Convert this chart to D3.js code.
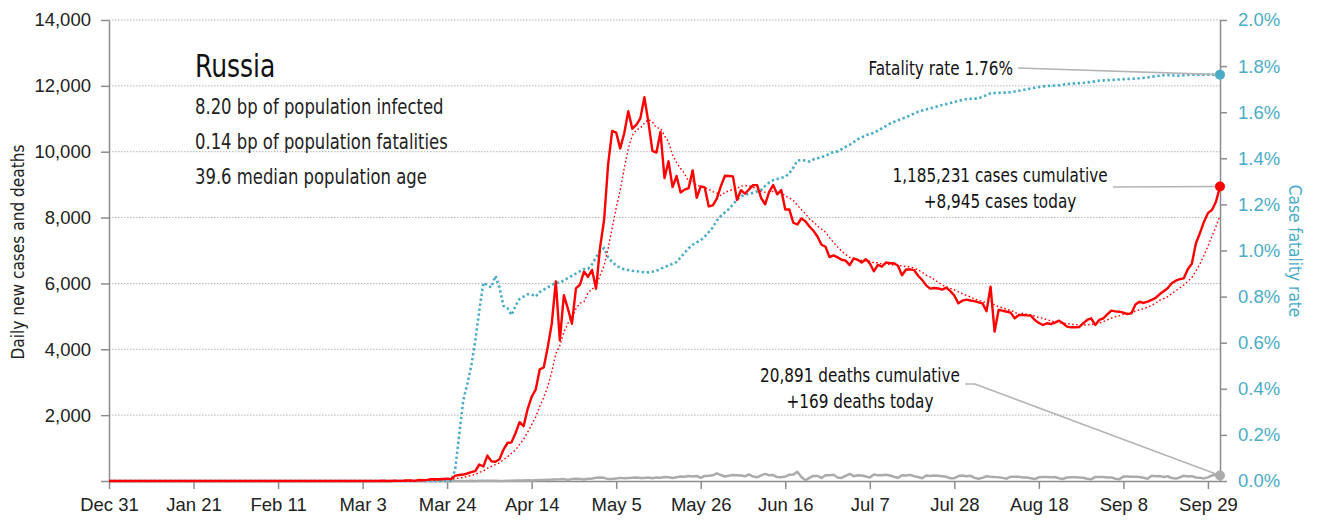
<!DOCTYPE html>
<html>
<head>
<meta charset="utf-8">
<script src="https://cdn.jsdelivr.net/npm/d3@7"></script>
<style>
  body { margin: 0; background: #fff; }
  svg { font-family: "Liberation Sans Narrow", "Arial Narrow", "DejaVu Sans Condensed", sans-serif; }
</style>
</head>
<body>
<svg id="chart" width="1320" height="522"></svg>
<script>
// Daily series start on this date, one value per day
const startDate = "2019-12-31";

// Daily new cases (left axis)
const dailyCases = [
  0,0,0,0,0,0,0,0,0,0,
  0,0,0,0,0,0,0,0,0,0,
  0,0,0,0,0,0,0,0,0,0,
  0,0,2,0,0,0,0,0,0,0,
  0,0,0,0,0,0,0,0,0,0,
  0,0,0,0,0,0,0,0,0,0,
  0,0,0,1,0,0,0,1,6,0,
  0,7,3,8,17,14,4,30,21,33,
  52,54,53,61,71,57,163,182,196,228,
  270,302,501,440,771,601,582,658,954,1154,
  1175,1459,1786,1667,2186,2558,2774,3388,3448,4070,
  4785,6060,4268,5642,5236,4774,5849,5966,6361,6198,
  6411,5841,7099,7933,9623,10633,10581,10102,10559,11231,
  10699,10817,11012,11656,10899,10028,9974,10598,9200,9709,
  8926,9263,8764,8849,8894,9434,8599,8946,8915,8338,
  8371,8572,8952,9268,9263,9250,8536,8831,8726,8855,
  8984,8985,8595,8404,8779,8987,8706,8835,8246,8248,
  7843,7790,7972,7889,7728,7600,7425,7176,7113,6800,
  6852,6791,6719,6693,6556,6760,6718,6632,6736,6611,
  6368,6562,6509,6635,6615,6611,6537,6248,6422,6428,
  6406,6234,6109,5940,5842,5862,5848,5811,5871,5765,
  5635,5395,5475,5509,5482,5462,5427,5394,5159,5901,
  4535,5193,5173,5140,5112,4940,5041,5041,5030,5021,
  4890,4800,4738,4789,4768,4809,4869,4789,4687,4667,
  4667,4676,4789,4890,4940,4738,4890,4940,5061,5173,
  5150,5142,5112,5071,5092,5363,5446,5406,5449,5497,
  5560,5670,5762,5852,6004,6084,6130,6155,6431,6595,
  7212,7523,7867,8135,8232,8481,8945
];

// Daily deaths (left axis)
const dailyDeaths = [
  0,0,0,0,0,0,0,0,0,0,
  0,0,0,0,0,0,0,0,0,0,
  0,0,0,0,0,0,0,0,0,0,
  0,0,0,0,0,0,0,0,0,0,
  0,0,0,0,0,0,0,0,0,0,
  0,0,0,0,0,0,0,0,0,0,
  0,0,0,0,0,0,0,0,0,0,
  0,0,0,0,0,0,0,0,0,0,
  0,0,0,0,0,0,1,2,1,0,
  4,1,8,7,6,4,9,2,2,11,
  5,13,18,12,24,18,22,28,34,41,
  42,48,51,57,28,60,66,60,47,67,
  72,101,108,96,57,58,76,95,86,88,
  98,104,88,94,107,86,107,96,119,113,
  91,115,135,127,150,139,153,92,153,161,
  174,232,181,138,162,182,178,169,144,197,
  134,112,171,216,174,181,119,114,134,193,
  194,280,120,20,95,153,154,92,176,176,
  188,104,93,154,216,147,176,168,135,104,
  198,173,174,188,168,130,95,175,165,186,
  146,122,85,167,154,165,161,146,130,82,
  85,150,169,147,161,95,70,95,144,129,
  119,114,95,70,130,129,129,107,107,85,
  60,114,121,122,111,121,83,60,110,113,
  117,107,96,68,51,123,123,119,103,110,
  69,56,134,135,129,131,119,98,68,160,
  146,150,122,144,88,73,108,160,138,147,
  108,102,79,109,170,187,169
];

// Case fatality rate in percent (right axis)
const fatalityRate = [
  0,0,0,0,0,0,0,0,0,0,
  0,0,0,0,0,0,0,0,0,0,
  0,0,0,0,0,0,0,0,0,0,
  0,0,0,0,0,0,0,0,0,0,
  0,0,0,0,0,0,0,0,0,0,
  0,0,0,0,0,0,0,0,0,0,
  0,0,0,0,0,0,0,0,0,0,
  0,0,0,0,0,0,0,0,0,0,
  0,0,0,0,0,0,0.05,0.20,0.35,0.42,
  0.50,0.61,0.74,0.86,0.85,0.84,0.89,0.84,0.76,0.75,
  0.72,0.76,0.79,0.80,0.81,0.81,0.80,0.82,0.83,0.84,
  0.85,0.86,0.86,0.87,0.88,0.89,0.90,0.91,0.92,0.92,
  0.94,0.97,1.00,1.01,0.97,0.95,0.935,0.925,0.918,0.915,
  0.912,0.91,0.908,0.905,0.905,0.908,0.912,0.92,0.928,0.935,
  0.942,0.95,0.97,0.99,1.01,1.025,1.035,1.045,1.06,1.08,
  1.10,1.13,1.15,1.165,1.18,1.20,1.22,1.235,1.242,1.246,
  1.25,1.256,1.262,1.28,1.295,1.305,1.31,1.315,1.32,1.335,
  1.36,1.39,1.392,1.39,1.386,1.395,1.40,1.405,1.41,1.42,
  1.428,1.43,1.44,1.45,1.458,1.47,1.483,1.49,1.50,1.505,
  1.51,1.52,1.53,1.54,1.55,1.558,1.565,1.572,1.578,1.586,
  1.594,1.602,1.607,1.612,1.617,1.621,1.626,1.631,1.635,1.64,
  1.645,1.649,1.653,1.657,1.658,1.659,1.66,1.667,1.674,1.682,
  1.683,1.684,1.685,1.685,1.687,1.69,1.693,1.696,1.70,1.703,
  1.706,1.709,1.712,1.714,1.715,1.716,1.717,1.719,1.722,1.724,
  1.725,1.726,1.727,1.729,1.731,1.734,1.737,1.738,1.739,1.74,
  1.741,1.742,1.743,1.744,1.745,1.746,1.747,1.749,1.751,1.754,
  1.756,1.758,1.76,1.761,1.76,1.759,1.758,1.76,1.762,1.763,
  1.763,1.763,1.763,1.763,1.762,1.762,1.763
];

// Totals shown in the notes
const totalCases = 1185231;
const totalDeaths = 20891;

// Country facts
const countryName = "Russia";
const countryFacts = [
  "8.20 bp of population infected",
  "0.14 bp of population fatalities",
  "39.6 median population age"
];

// Axis ticks
const xTickDates = ["2019-12-31", "2020-01-21", "2020-02-11", "2020-03-03", "2020-03-24",
  "2020-04-14", "2020-05-05", "2020-05-26", "2020-06-16", "2020-07-07",
  "2020-07-28", "2020-08-18", "2020-09-08", "2020-09-29"];
const leftTicks = [0, 2000, 4000, 6000, 8000, 10000, 12000, 14000];
const rightTicks = [0, 0.2, 0.4, 0.6, 0.8, 1.0, 1.2, 1.4, 1.6, 1.8, 2.0];

const avgWindow = 7;

const parse = d3.utcParse("%Y-%m-%d");
const start = parse(startDate);
const dates = dailyCases.map((d, i) => d3.utcDay.offset(start, i));
const last = dailyCases.length - 1;

// trailing average of the daily cases
const avgCases = dailyCases.map((d, i) => d3.mean(dailyCases.slice(Math.max(0, i - avgWindow + 1), i + 1)));

const blue = "#4bacc6", red = "#ff0000", grey = "#ababab", axisGrey = "#8c8c8c";
const margin = { left: 109, right: 1220, top: 20, bottom: 481 };
const narrow = 0.87; // squeeze the text a bit, the fallback font is wider

const svg = d3.select("#chart");

const x = d3.scaleUtc().domain([dates[0], dates[last]]).range([margin.left, margin.right]);
const y = d3.scaleLinear().domain([0, 14000]).range([margin.bottom, margin.top]);
const y2 = d3.scaleLinear().domain([0, 2]).range([margin.bottom, margin.top]);

// gridlines
svg.append("g").selectAll("line")
  .data(leftTicks.filter(v => v > 0))
  .enter().append("line")
  .attr("x1", margin.left).attr("x2", margin.right)
  .attr("y1", d => y(d)).attr("y2", d => y(d))
  .attr("stroke", "#b4b4b4").attr("stroke-width", 1)
  .attr("stroke-dasharray", "1.5,1.5");

// axes
function styleAxis(g, color) {
  g.select(".domain").attr("stroke", axisGrey).attr("stroke-width", 1.5);
  g.selectAll(".tick line").attr("stroke", axisGrey).attr("stroke-width", 1.5);
  g.selectAll("text").attr("fill", color).style("font-size", "18.5px");
}

const xAxis = svg.append("g")
  .attr("transform", "translate(0," + margin.bottom + ")")
  .call(d3.axisBottom(x).tickValues(xTickDates.map(parse))
    .tickFormat(d3.utcFormat("%b %-d")).tickSize(8).tickSizeOuter(0).tickPadding(9));
styleAxis(xAxis, "#222");

const yAxis = svg.append("g")
  .attr("transform", "translate(" + margin.left + ",0)")
  .call(d3.axisLeft(y).tickValues(leftTicks)
    .tickFormat(v => v ? d3.format(",")(v) : "").tickSize(8).tickSizeOuter(0).tickPadding(10));
styleAxis(yAxis, "#222");

const yAxis2 = svg.append("g")
  .attr("transform", "translate(" + margin.right + ",0)")
  .call(d3.axisRight(y2).tickValues(rightTicks)
    .tickFormat(v => v.toFixed(1) + "%").tickSize(7).tickSizeOuter(0).tickPadding(11));
styleAxis(yAxis2, blue);

// axis titles
svg.append("text")
  .attr("transform", "translate(24,252) rotate(-90) scale(0.95,1)")
  .attr("text-anchor", "middle")
  .attr("fill", "#222").style("font-size", "18px")
  .text("Daily new cases and deaths");

svg.append("text")
  .attr("transform", "translate(1289,251) rotate(90) scale(0.95,1)")
  .attr("text-anchor", "middle")
  .attr("fill", blue).style("font-size", "18px")
  .text("Case fatality rate");

// series
const lineLeft = d3.line().x((d, i) => x(dates[i])).y(d => y(d));
const lineRight = d3.line().x((d, i) => x(dates[i])).y(d => y2(d));

svg.append("path").attr("d", lineLeft(dailyDeaths))
  .attr("fill", "none").attr("stroke", grey).attr("stroke-width", 2.5)
  .attr("stroke-linejoin", "round");

svg.append("path").attr("d", lineRight(fatalityRate))
  .attr("fill", "none").attr("stroke", blue).attr("stroke-width", 2.6)
  .attr("stroke-dasharray", "2.4,2.6");

svg.append("path").attr("d", lineLeft(avgCases))
  .attr("fill", "none").attr("stroke", red).attr("stroke-width", 1.4)
  .attr("stroke-dasharray", "1.6,2.4");

svg.append("path").attr("d", lineLeft(dailyCases))
  .attr("fill", "none").attr("stroke", red).attr("stroke-width", 2.4)
  .attr("stroke-linejoin", "round");

// text block squeezed horizontally
function textBlock(lines, xPos, yPos, anchor, size, color, gap) {
  const t = svg.append("text")
    .attr("transform", "translate(" + xPos + "," + yPos + ") scale(" + narrow + ",1)")
    .attr("text-anchor", anchor)
    .attr("fill", color).style("font-size", size + "px");
  lines.forEach((s, i) => t.append("tspan").attr("x", 0).attr("y", i * gap).text(s));
}

// title block
textBlock([countryName], 195, 77, "start", 32, "#111", 0);
textBlock(countryFacts, 195, 114, "start", 21, "#222", 35);

// notes with leader lines
const fmt = d3.format(",");
const endX = x(dates[last]);

function leader(points) {
  svg.append("polyline")
    .attr("points", points.map(p => p.join(",")).join(" "))
    .attr("fill", "none").attr("stroke", "#b4b4b4").attr("stroke-width", 1.6);
}

// fatality rate
leader([[1018, 68], [endX, y2(fatalityRate[last])]]);
textBlock(["Fatality rate " + fatalityRate[last].toFixed(2) + "%"], 1013, 75, "end", 19.5, "#111", 26);

// cases
leader([[1113, 187], [endX, y(dailyCases[last])]]);
textBlock([fmt(totalCases) + " cases cumulative", "+" + fmt(dailyCases[last]) + " cases today"], 1000, 182, "middle", 19.5, "#111", 26);

// deaths
leader([[965, 384], [975, 384], [endX, y(dailyDeaths[last])]]);
textBlock([fmt(totalDeaths) + " deaths cumulative", "+" + fmt(dailyDeaths[last]) + " deaths today"], 860, 382, "middle", 19.5, "#111", 26);

// end dots
svg.append("circle").attr("cx", endX).attr("cy", y2(fatalityRate[last])).attr("r", 5).attr("fill", blue);
svg.append("circle").attr("cx", endX).attr("cy", y(dailyCases[last])).attr("r", 5).attr("fill", red);
svg.append("circle").attr("cx", endX).attr("cy", y(dailyDeaths[last])).attr("r", 5).attr("fill", grey);
</script>
</body>
</html>
